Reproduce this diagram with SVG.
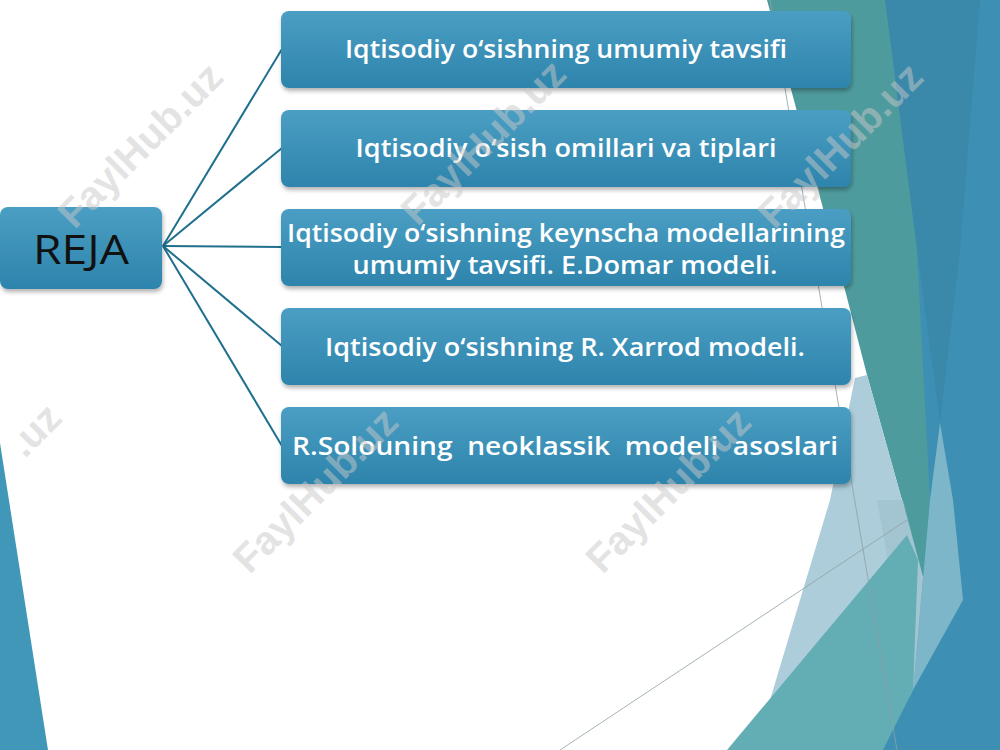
<svg xmlns="http://www.w3.org/2000/svg" width="1000" height="750" viewBox="0 0 1000 750">
<defs>
<linearGradient id="boxg" x1="0" y1="0" x2="0" y2="1">
<stop offset="0" stop-color="#4b9ec3"/>
<stop offset="1" stop-color="#2d84ac"/>
</linearGradient>
<filter id="sh" x="-5%" y="-10%" width="110%" height="130%">
<feDropShadow dx="1" dy="3" stdDeviation="2" flood-color="#000" flood-opacity="0.3"/>
</filter>
</defs>
<style>
.box{fill:url(#boxg);filter:url(#sh);}
.t{font-family:"Open Sans","Noto Sans",sans-serif;font-weight:600;font-size:25px;fill:#fff;text-anchor:middle;}
.r{font-family:"Open Sans","Noto Sans",sans-serif;font-size:41px;fill:#111;text-anchor:middle;}
.wm{font-family:"Liberation Sans",Arial,sans-serif;font-weight:bold;font-size:40px;fill:#c8c8c8;fill-opacity:0.5;text-anchor:middle;}
.con line{stroke:#1f6f8d;stroke-width:2;}
</style>
<rect width="1000" height="750" fill="#ffffff"/>
<g id="background">
<polygon points="0,443 48,750 0,750" fill="#4197b8"/>
<polygon points="880,0 1000,0 1000,750 870,750 900,600 915,300" fill="#3d8fb4"/>
<polygon points="885,0 980,0 960,250 940,423 917,250" fill="#3a89aa"/>
<polygon points="767,0 885,0 917,250 930,500 923,577 907,518 867,375 845,290" fill="#4e9b9d"/>
<polygon points="940,423 953,500 963,600 913,690 930,500" fill="#7db6c9"/>
<polygon points="855,378 867,375 907,518 923,577 913,690 880,750 755,750 770,700 830,500" fill="#adcddb"/>
<polygon points="877,500 903,500 923,577 913,690 895,600" fill="#9dbfcc" opacity="0.6"/>
<polygon points="727,750 907,535 918,560 913,690 883,750" fill="#63adb4"/>
<line x1="560" y1="750" x2="907" y2="520" stroke="#8f9fa5" stroke-width="0.8"/>
<line x1="770" y1="0" x2="897" y2="750" stroke="#8f9fa5" stroke-width="0.8"/>
</g>
<g id="connectors" class="con">
<line x1="163" y1="246" x2="282" y2="49"/>
<line x1="163" y1="246" x2="282" y2="148"/>
<line x1="163" y1="246" x2="282" y2="247"/>
<line x1="163" y1="246" x2="282" y2="346"/>
<line x1="163" y1="246" x2="282" y2="446"/>
</g>
<g id="reja">
<rect class="box" x="0" y="207" width="162" height="82" rx="8"/>
<text class="r" x="81" y="264" textLength="96" lengthAdjust="spacingAndGlyphs">REJA</text>
</g>
<g id="item1">
<rect class="box" x="281" y="11" width="570" height="77" rx="8"/>
<text class="t" x="566" y="58" textLength="442" lengthAdjust="spacingAndGlyphs">Iqtisodiy o‘sishning umumiy tavsifi</text>
</g>
<g id="item2">
<rect class="box" x="281" y="110" width="570" height="77" rx="8"/>
<text class="t" x="566" y="157" textLength="421" lengthAdjust="spacingAndGlyphs">Iqtisodiy o‘sish omillari va tiplari</text>
</g>
<g id="item3">
<rect class="box" x="281" y="209" width="570" height="77" rx="8"/>
<text class="t" x="566" y="242" textLength="558" lengthAdjust="spacingAndGlyphs">Iqtisodiy o‘sishning keynscha modellarining</text>
<text class="t" x="565" y="274" textLength="425" lengthAdjust="spacingAndGlyphs">umumiy tavsifi. E.Domar modeli.</text>
</g>
<g id="item4">
<rect class="box" x="281" y="308" width="570" height="77" rx="8"/>
<text class="t" x="565" y="356" textLength="480" lengthAdjust="spacingAndGlyphs">Iqtisodiy o‘sishning R. Xarrod modeli.</text>
</g>
<g id="item5">
<rect class="box" x="281" y="407" width="570" height="77" rx="8"/>
<text class="t" x="565" y="455" textLength="546" lengthAdjust="spacingAndGlyphs" xml:space="preserve">R.Solouning  neoklassik  modeli  asoslari</text>
</g>
<g id="watermarks">
<text class="wm" transform="translate(140,145) rotate(-45)" y="14">FaylHub.uz</text>
<text class="wm" transform="translate(483,142) rotate(-45)" y="14">FaylHub.uz</text>
<text class="wm" transform="translate(840,145) rotate(-45)" y="14">FaylHub.uz</text>
<text class="wm" transform="translate(64,420) rotate(-45)" style="text-anchor:end">.uz</text>
<text class="wm" transform="translate(315,490) rotate(-45)" y="14">FaylHub.uz</text>
<text class="wm" transform="translate(668,490) rotate(-45)" y="14">FaylHub.uz</text>
</g>
</svg>
